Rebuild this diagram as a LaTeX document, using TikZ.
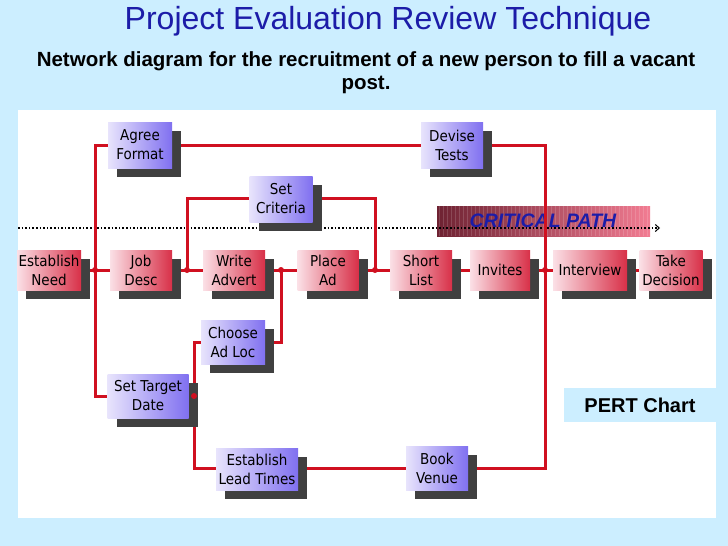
\documentclass[tikz,border=0pt]{standalone}
\usepackage{fontspec}
\setmainfont{Liberation Sans}
\newfontfamily\boxfont{DejaVu Sans Condensed}
\usetikzlibrary{arrows.meta,shadows}
\definecolor{bgblue}{HTML}{CCEEFF}
\definecolor{titleblue}{HTML}{1C1CA8}
\definecolor{linered}{HTML}{D01020}
\definecolor{redbox}{HTML}{D83048}
\definecolor{pinkbox}{HTML}{FBE0E6}
\definecolor{purbox}{HTML}{8070F0}
\definecolor{lavbox}{HTML}{E8E4FC}
\definecolor{banddark}{HTML}{6E2232}
\definecolor{bandpink}{HTML}{F27C92}
\begin{document}
\begin{tikzpicture}[x=1pt,y=-1pt,
    task/.style={minimum height=40pt,inner sep=0pt,align=center,font=\boxfont\fontsize{15}{19}\selectfont,
      left color=pinkbox,right color=redbox,
      drop shadow={shadow xshift=9pt,shadow yshift=-9pt,fill=black!75,opacity=1}},
    ptask/.style={task,left color=lavbox,right color=purbox},
    link/.style={linered,line width=3pt},
    joint/.style={circle,fill=linered,inner sep=0pt,minimum size=6pt}]
        
        %background
        \fill[bgblue] (0,0) rectangle (728,546);
        \fill[white] (18,110) rectangle (716,518);
        
        %titles
        \node[titleblue,font=\fontsize{32}{36}\selectfont] (title) at (388,21) {Project Evaluation Review Technique};
        \node[font=\bfseries\fontsize{20.5}{23}\selectfont,align=center] (sub) at (366,73)
            {Network diagram for the recruitment of a new person to fill a vacant\\post.};
        
        %critical path band
        \shade[left color=banddark,right color=bandpink] (437,206) rectangle (650,236);
        \foreach \i in {0,...,52}
            \draw[white,opacity=0.15,line width=1pt] (439+4*\i,206) -- (439+4*\i,236);
        \node[titleblue,font=\bfseries\itshape\fontsize{19.5}{22}\selectfont] (cp) at (543,221) {CRITICAL PATH};
        \coordinate (dotsL) at (18,228);
        \coordinate (dotsR) at (660,228);
        \draw[line width=1.6pt,dotted,-{Straight Barb[length=4pt,width=7pt,line width=1pt]}] (dotsL) -- (dotsR);
        
        %connectors (under boxes)
        \coordinate (j1) at (95,270);
        \coordinate (j2) at (187,270);
        \coordinate (j3) at (281,270);
        \coordinate (j4) at (375,270);
        \coordinate (j5) at (545,270);
        \coordinate (j6) at (194,396);
        \draw[link] (49,270) -- (671,270);
        \draw[link] (140,396) -| (95,145) -- (545,145) -- (545,468) -- (257,468) -| (194,342) -- (233,342) -| (281,270);
        \draw[link] (j2) |- (375,198) -- (j4);
        \draw[link] (148,396) -- (j6);
        
        %tasks
        \node[task,minimum width=64pt] (need) at (49,270) {Establish\\Need};
        \node[task,minimum width=62pt] (job) at (141,270) {Job\\Desc};
        \node[task,minimum width=62pt] (write) at (234,270) {Write\\Advert};
        \node[task,minimum width=61pt] (place) at (328,270) {Place\\Ad};
        \node[task,minimum width=62pt] (short) at (421,270) {Short\\List};
        \node[task,minimum width=60pt] (invites) at (500,270) {Invites};
        \node[task,minimum width=74pt] (interview) at (590,270) {Interview};
        \node[task,minimum width=63pt] (decide) at (671,270) {Take\\Decision};
        
        \node[ptask,minimum width=64pt,minimum height=46pt] (agree) at (140,145) {Agree\\Format};
        \node[ptask,minimum width=63pt,minimum height=46pt] (crit) at (281,199) {Set\\Criteria};
        \node[ptask,minimum width=62pt,minimum height=46pt] (tests) at (452,145) {Devise\\Tests};
        \node[ptask,minimum width=64pt,minimum height=44pt] (adloc) at (233,342) {Choose\\Ad Loc};
        \node[ptask,minimum width=81pt,minimum height=44pt] (target) at (148,396) {Set Target\\Date};
        \node[ptask,minimum width=82pt,minimum height=42pt] (lead) at (257,469) {Establish\\Lead Times};
        \node[ptask,minimum width=62pt,minimum height=44pt] (venue) at (437,468) {Book\\Venue};
        
        %junction dots
        \foreach \j in {j1,j2,j3,j4,j5,j6}
            \node[joint] at (\j) {};
        
        %label box
        \node[fill=bgblue,minimum width=152pt,minimum height=34pt,font=\bfseries\fontsize{20}{22}\selectfont] (pert) at (640,405) {PERT Chart};
\end{tikzpicture}
\end{document}
